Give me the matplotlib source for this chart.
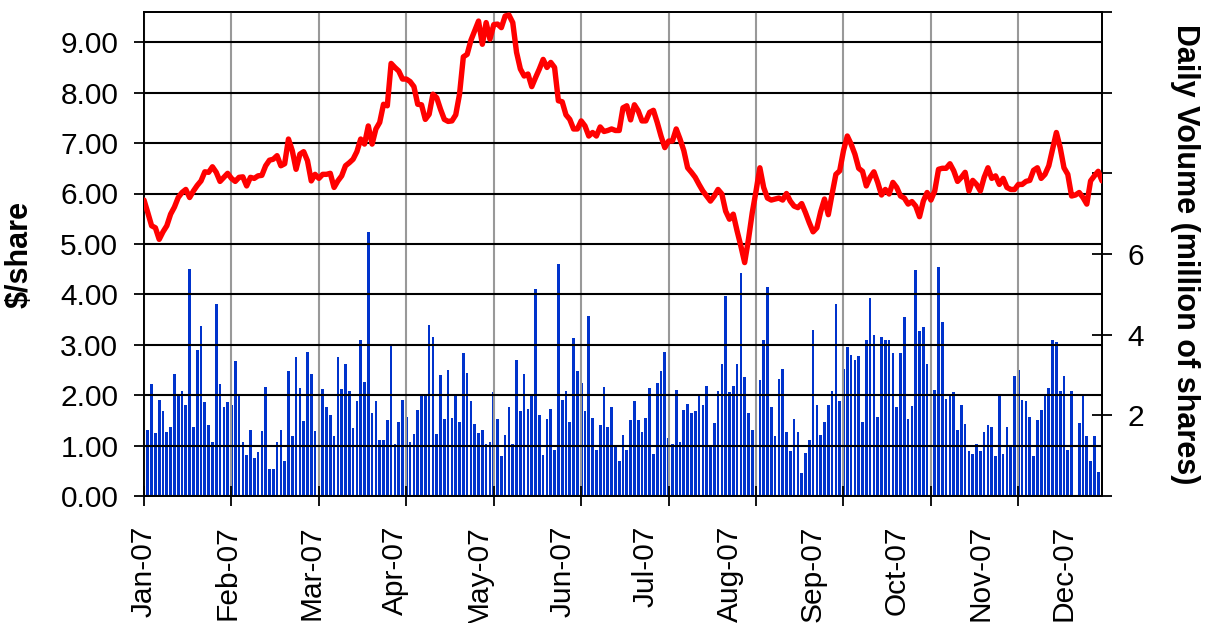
import matplotlib
matplotlib.use('Agg')
import matplotlib.pyplot as plt
import numpy as np
from matplotlib.ticker import FixedLocator, FixedFormatter, NullFormatter

plt.rcParams['font.family'] = ['Liberation Sans', 'DejaVu Sans']

# Daily volume (million of shares), one value per trading day
volume = [
    0.32, 1.64, 2.78, 1.56, 2.39, 2.10, 1.59, 1.72, 3.03, 2.51,
    2.61, 2.26, 5.63, 1.72, 3.61, 4.21, 2.33, 1.76, 1.34, 4.77,
    2.78, 2.20, 2.33, 2.26, 3.35, 2.49, 1.35, 1.02, 1.64, 0.94,
    1.08, 1.62, 2.71, 0.66, 0.66, 1.35, 1.64, 0.86, 3.09, 1.50,
    3.44, 2.68, 1.85, 3.56, 3.03, 1.62, 2.80, 2.65, 2.20, 2.02,
    1.50,
    3.44, 2.65, 3.28, 2.61, 1.69, 2.35, 3.86, 2.83, 6.54, 2.07,
    2.35, 1.39, 1.39, 1.88, 3.75, 1.30, 1.83, 2.38, 1.96, 1.35,
    1.54, 2.12, 2.51, 2.49, 4.24, 3.95, 1.54, 2.99, 1.90, 3.12,
    1.93, 2.49, 1.83, 3.54, 3.06, 2.35, 1.78, 1.55, 1.64, 1.30,
    1.35, 2.57, 1.90, 0.98, 1.52, 2.20, 1.30, 3.38, 2.11, 3.03,
    2.16, 2.51, 5.13, 2.00, 1.01, 1.90, 2.16, 1.13, 5.74, 2.38,
    2.61, 1.83, 3.92, 3.09, 2.80, 2.10, 4.46, 1.93, 1.13, 1.75,
    2.70, 1.71, 2.20, 1.23, 0.88, 1.52, 1.13, 1.88, 2.35, 1.88,
    1.59, 1.93, 2.68, 1.04, 2.80, 3.09, 3.57, 1.45, 1.30, 2.64,
    1.34, 2.12, 2.29, 2.07, 2.10, 2.49, 2.26, 2.73, 1.23, 1.81,
    2.61,
    3.28, 4.97, 2.58, 2.73, 3.28, 5.53, 2.94, 2.07, 1.64, 3.09,
    2.87, 3.86, 5.17, 2.20, 1.49, 2.90, 3.16, 1.59, 1.11, 1.90,
    1.59, 0.57, 1.07, 1.40, 4.11, 2.26, 1.52, 1.83, 2.26, 2.61,
    4.76, 2.35, 3.16, 3.69, 3.50, 3.38, 3.47, 1.83, 3.88, 4.91,
    3.98, 1.97, 3.95, 3.86, 3.86, 3.54, 2.20, 3.54, 4.43, 1.90,
    2.22, 5.61, 4.08, 4.20, 3.28, 2.51, 2.64, 5.68, 4.31, 2.41,
    2.54, 2.58, 1.64, 2.26, 1.78, 1.11, 1.04, 1.30, 1.11, 1.59,
    1.75, 1.71, 0.98, 2.49, 1.04, 1.71, 1.26, 2.97, 3.12, 2.38,
    2.35, 1.97, 0.98, 1.88, 2.12, 2.51, 2.68, 3.88, 3.82, 2.61,
    2.97, 1.13, 2.61, 0.00, 1.81, 2.54, 1.49, 0.86, 1.49, 0.59,
    0.28,
]

# Closing price ($/share), one value per trading day
price = [
    5.87, 5.62, 5.36, 5.32, 5.09, 5.24, 5.36, 5.59, 5.73, 5.92,
    6.02, 6.08, 5.92, 6.05, 6.16, 6.25, 6.43, 6.42, 6.53, 6.42,
    6.24, 6.32, 6.40, 6.30, 6.24, 6.32, 6.33, 6.15, 6.32, 6.30,
    6.35, 6.36, 6.55, 6.66, 6.68, 6.75, 6.55, 6.59, 7.08, 6.85,
    6.48, 6.78, 6.83, 6.65, 6.25, 6.38, 6.30, 6.38, 6.38, 6.40,
    6.12,
    6.25, 6.35, 6.55, 6.61, 6.68, 6.83, 7.08, 6.98, 7.34, 6.98,
    7.28, 7.41, 7.77, 7.74, 8.58, 8.50, 8.43, 8.27, 8.27, 8.22,
    8.12, 7.77, 7.76, 7.47, 7.57, 7.97, 7.90, 7.67, 7.47, 7.43,
    7.44, 7.56, 7.97, 8.71, 8.76, 9.04, 9.23, 9.42, 8.96, 9.39,
    9.06, 9.35, 9.36, 9.29, 9.52, 9.54, 9.39, 8.80, 8.47, 8.33,
    8.37, 8.12, 8.30, 8.47, 8.66, 8.50, 8.60, 8.50, 7.84, 7.82,
    7.56, 7.47, 7.28, 7.28, 7.44, 7.34, 7.14, 7.21, 7.14, 7.32,
    7.23, 7.25, 7.28, 7.25, 7.25, 7.70, 7.74, 7.46, 7.76, 7.64,
    7.44, 7.44, 7.61, 7.65, 7.41, 7.14, 6.91, 7.04, 7.04, 7.28,
    7.08, 6.85, 6.51, 6.42, 6.32, 6.18, 6.05, 5.95, 5.85, 5.95,
    6.08,
    5.99, 5.65, 5.49, 5.59, 5.26, 4.96, 4.63, 5.09, 5.62, 6.05,
    6.51, 6.12, 5.91, 5.87, 5.89, 5.91, 5.87, 6.00, 5.85, 5.75,
    5.72, 5.80, 5.62, 5.42, 5.24, 5.32, 5.64, 5.89, 5.58, 5.99,
    6.38, 6.45, 6.85, 7.14, 6.98, 6.78, 6.50, 6.44, 6.15, 6.32,
    6.43, 6.22, 5.97, 6.08, 5.99, 6.22, 6.12, 5.95, 5.91, 5.79,
    5.84, 5.75, 5.54, 5.85, 6.02, 5.87, 6.05, 6.48, 6.50, 6.50,
    6.59, 6.45, 6.24, 6.32, 6.42, 6.05, 6.26, 6.18, 6.05, 6.32,
    6.51, 6.30, 6.35, 6.18, 6.30, 6.12, 6.08, 6.08, 6.18, 6.18,
    6.24, 6.26, 6.46, 6.51, 6.30, 6.38, 6.55, 6.88, 7.21, 6.91,
    6.51, 6.38, 5.95, 5.97, 6.02, 5.92, 5.79, 6.25, 6.35, 6.44,
    6.25,
]

month_labels = ['Jan-07', 'Feb-07', 'Mar-07', 'Apr-07', 'May-07', 'Jun-07',
                'Jul-07', 'Aug-07', 'Sep-07', 'Oct-07', 'Nov-07', 'Dec-07']
price_ticks = [0, 1, 2, 3, 4, 5, 6, 7, 8, 9]
volume_ticks = [0, 2, 4, 6, 8, 10, 12]
volume_tick_labels = ['', '2', '4', '6', '', '', '']
label_every = 22   # trading days between month labels
tick_every = 23    # trading days between tick marks / gridlines

W, H = 1206, 623
fig = plt.figure(figsize=(W / 100, H / 100), dpi=100)
L, R, T, B = 144, 1102, 12, 496
ax1 = fig.add_axes([L / W, 1 - B / H, (R - L) / W, (B - T) / H])
ax2 = ax1.twinx()

n = len(price)
x = np.arange(n)
ax2.bar(x, volume, width=0.7, color='#0033cc', linewidth=0)
ax1.plot(x, price, color='#ff0000', lw=3.9, solid_joinstyle='round',
         solid_capstyle='round', zorder=3)

ax1.set_zorder(ax2.get_zorder() + 1)
ax1.patch.set_visible(False)

ax1.set_xlim(0, n - 1)
ax1.set_ylim(0, 9.6)
ax2.set_ylim(0, 12)

fs = 21.5
# left axis
ax1.set_yticks(price_ticks)
ax1.set_yticklabels([f'{v:.2f}' for v in price_ticks])
ax1.tick_params(axis='y', direction='inout', length=14, width=1.3,
                pad=11.5, labelsize=fs, color='black')
ax1.grid(axis='y', color='black', lw=1.5)

# x axis: major ticks/gridlines, minor ticks carry the month labels
ax1.xaxis.remove_overlapping_locs = False
ax1.xaxis.set_major_locator(FixedLocator(list(range(0, n, tick_every))))
ax1.xaxis.set_major_formatter(NullFormatter())
ax1.xaxis.set_minor_locator(FixedLocator([i * label_every for i in range(len(month_labels))]))
ax1.xaxis.set_minor_formatter(FixedFormatter(month_labels))
ax1.tick_params(axis='x', which='major', direction='inout', length=14,
                width=1.3, color='black')
ax1.tick_params(axis='x', which='minor', length=0, pad=21,
                labelsize=fs, labelrotation=90)
ax1.grid(axis='x', which='major', color='#999999', lw=1.5)

# right axis
ax2.set_yticks(volume_ticks)
ax2.set_yticklabels(volume_tick_labels)
ax2.tick_params(axis='y', direction='inout', length=14, width=1.3,
                pad=11.5, labelsize=fs, color='black')

for ax in (ax1, ax2):
    for s in ax.spines.values():
        s.set_color('black')
        s.set_linewidth(1.3)

ax1.set_ylabel('$/share', fontsize=22, fontweight='bold')
ax1.yaxis.label.set_va('center')
ax1.yaxis.set_label_coords((20 - L) / (R - L), 0.5)
ax2.set_ylabel('Daily Volume (million of shares)', fontsize=22,
               fontweight='bold', rotation=270)
ax2.yaxis.label.set_va('center')
ax2.yaxis.set_label_coords((1185 - L) / (R - L), 0.5)

fig.savefig('out.png', dpi=100)
